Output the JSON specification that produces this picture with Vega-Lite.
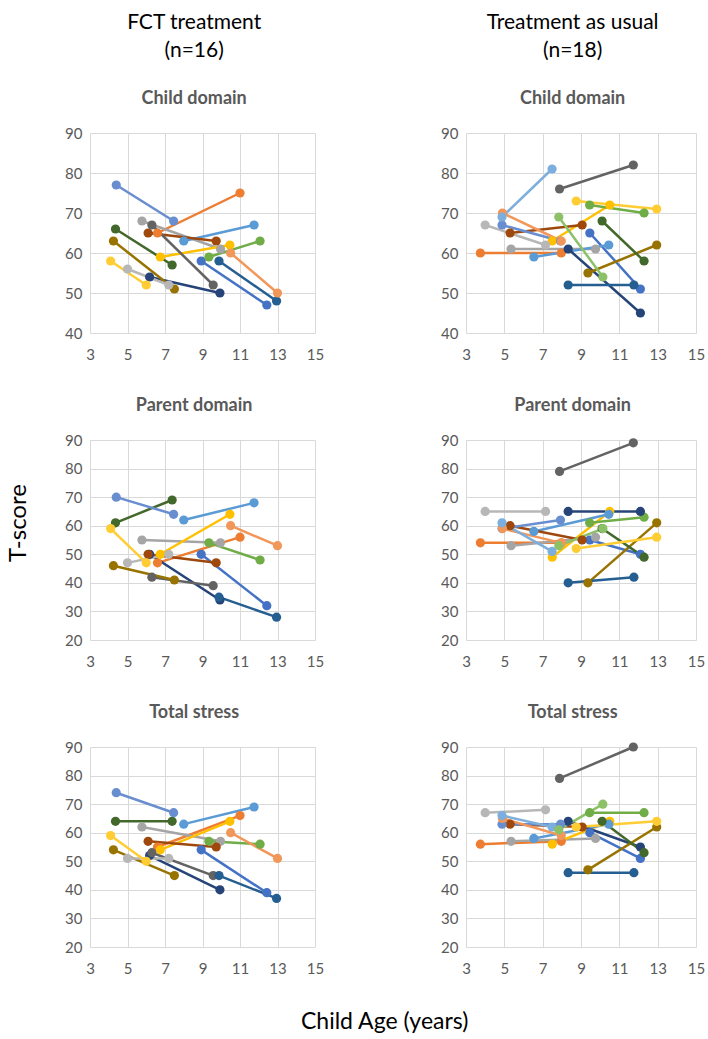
{
"$schema": "https://vega.github.io/schema/vega-lite/v6.json",
"padding": {"left": 6, "top": 12, "right": 0, "bottom": 0},
"background": "white",
"config": {
  "font": "Lato",
  "view": {"stroke": null},
  "axis": {"domain": false, "ticks": false, "grid": true, "gridColor": "#D9D9D9", "gridWidth": 1, "labelFont": "Lato", "labelFontSize": 15, "labelColor": "#595959", "labelFlush": false, "labelOverlap": false},
  "axisX": {"labelPadding": 14},
  "axisY": {"labelPadding": 8},
  "title": {"font": "Lato", "fontSize": 18, "fontWeight": "bold", "color": "#595959", "offset": 18},
  "concat": {"spacing": 35},
  "line": {"strokeWidth": 2.5}
},
"datasets": {
 "pts": [
  {"g":"F","m":"C","id":"S1","age":8.93,"t":58},{"g":"F","m":"C","id":"S1","age":12.43,"t":47},
  {"g":"F","m":"P","id":"S1","age":8.93,"t":50},{"g":"F","m":"P","id":"S1","age":12.43,"t":32},
  {"g":"F","m":"S","id":"S1","age":8.93,"t":54},{"g":"F","m":"S","id":"S1","age":12.43,"t":39},
  {"g":"F","m":"C","id":"S2","age":6.6,"t":65},{"g":"F","m":"C","id":"S2","age":11.0,"t":75},
  {"g":"F","m":"P","id":"S2","age":6.6,"t":47},{"g":"F","m":"P","id":"S2","age":11.0,"t":56},
  {"g":"F","m":"S","id":"S2","age":6.6,"t":55},{"g":"F","m":"S","id":"S2","age":11.0,"t":66},
  {"g":"F","m":"C","id":"S3","age":5.77,"t":68},{"g":"F","m":"C","id":"S3","age":9.96,"t":61},
  {"g":"F","m":"P","id":"S3","age":5.77,"t":55},{"g":"F","m":"P","id":"S3","age":9.96,"t":54},
  {"g":"F","m":"S","id":"S3","age":5.77,"t":62},{"g":"F","m":"S","id":"S3","age":9.96,"t":57},
  {"g":"F","m":"C","id":"S4","age":6.75,"t":59},{"g":"F","m":"C","id":"S4","age":10.46,"t":62},
  {"g":"F","m":"P","id":"S4","age":6.75,"t":50},{"g":"F","m":"P","id":"S4","age":10.46,"t":64},
  {"g":"F","m":"S","id":"S4","age":6.75,"t":54},{"g":"F","m":"S","id":"S4","age":10.46,"t":64},
  {"g":"F","m":"C","id":"S5","age":8.0,"t":63},{"g":"F","m":"C","id":"S5","age":11.75,"t":67},
  {"g":"F","m":"P","id":"S5","age":8.0,"t":62},{"g":"F","m":"P","id":"S5","age":11.75,"t":68},
  {"g":"F","m":"S","id":"S5","age":8.0,"t":63},{"g":"F","m":"S","id":"S5","age":11.75,"t":69},
  {"g":"F","m":"C","id":"S6","age":9.34,"t":59},{"g":"F","m":"C","id":"S6","age":12.07,"t":63},
  {"g":"F","m":"P","id":"S6","age":9.34,"t":54},{"g":"F","m":"P","id":"S6","age":12.07,"t":48},
  {"g":"F","m":"S","id":"S6","age":9.34,"t":57},{"g":"F","m":"S","id":"S6","age":12.07,"t":56},
  {"g":"F","m":"C","id":"S7","age":6.18,"t":54},{"g":"F","m":"C","id":"S7","age":9.93,"t":50},
  {"g":"F","m":"P","id":"S7","age":6.18,"t":50},{"g":"F","m":"P","id":"S7","age":9.93,"t":34},
  {"g":"F","m":"S","id":"S7","age":6.18,"t":52},{"g":"F","m":"S","id":"S7","age":9.93,"t":40},
  {"g":"F","m":"C","id":"S8","age":6.1,"t":65},{"g":"F","m":"C","id":"S8","age":9.73,"t":63},
  {"g":"F","m":"P","id":"S8","age":6.1,"t":50},{"g":"F","m":"P","id":"S8","age":9.73,"t":47},
  {"g":"F","m":"S","id":"S8","age":6.1,"t":57},{"g":"F","m":"S","id":"S8","age":9.73,"t":55},
  {"g":"F","m":"C","id":"S9","age":6.3,"t":67},{"g":"F","m":"C","id":"S9","age":9.57,"t":52},
  {"g":"F","m":"P","id":"S9","age":6.3,"t":42},{"g":"F","m":"P","id":"S9","age":9.57,"t":39},
  {"g":"F","m":"S","id":"S9","age":6.3,"t":53},{"g":"F","m":"S","id":"S9","age":9.57,"t":45},
  {"g":"F","m":"C","id":"S10","age":4.25,"t":63},{"g":"F","m":"C","id":"S10","age":7.5,"t":51},
  {"g":"F","m":"P","id":"S10","age":4.25,"t":46},{"g":"F","m":"P","id":"S10","age":7.5,"t":41},
  {"g":"F","m":"S","id":"S10","age":4.25,"t":54},{"g":"F","m":"S","id":"S10","age":7.5,"t":45},
  {"g":"F","m":"C","id":"S11","age":9.88,"t":58},{"g":"F","m":"C","id":"S11","age":12.95,"t":48},
  {"g":"F","m":"P","id":"S11","age":9.88,"t":35},{"g":"F","m":"P","id":"S11","age":12.95,"t":28},
  {"g":"F","m":"S","id":"S11","age":9.88,"t":45},{"g":"F","m":"S","id":"S11","age":12.95,"t":37},
  {"g":"F","m":"C","id":"S12","age":4.36,"t":66},{"g":"F","m":"C","id":"S12","age":7.38,"t":57},
  {"g":"F","m":"P","id":"S12","age":4.36,"t":61},{"g":"F","m":"P","id":"S12","age":7.38,"t":69},
  {"g":"F","m":"S","id":"S12","age":4.36,"t":64},{"g":"F","m":"S","id":"S12","age":7.38,"t":64},
  {"g":"F","m":"C","id":"S13","age":4.4,"t":77},{"g":"F","m":"C","id":"S13","age":7.46,"t":68},
  {"g":"F","m":"P","id":"S13","age":4.4,"t":70},{"g":"F","m":"P","id":"S13","age":7.46,"t":64},
  {"g":"F","m":"S","id":"S13","age":4.4,"t":74},{"g":"F","m":"S","id":"S13","age":7.46,"t":67},
  {"g":"F","m":"C","id":"S14","age":10.5,"t":60},{"g":"F","m":"C","id":"S14","age":13.0,"t":50},
  {"g":"F","m":"P","id":"S14","age":10.5,"t":60},{"g":"F","m":"P","id":"S14","age":13.0,"t":53},
  {"g":"F","m":"S","id":"S14","age":10.5,"t":60},{"g":"F","m":"S","id":"S14","age":13.0,"t":51},
  {"g":"F","m":"C","id":"S15","age":5.0,"t":56},{"g":"F","m":"C","id":"S15","age":7.2,"t":52},
  {"g":"F","m":"P","id":"S15","age":5.0,"t":47},{"g":"F","m":"P","id":"S15","age":7.2,"t":50},
  {"g":"F","m":"S","id":"S15","age":5.0,"t":51},{"g":"F","m":"S","id":"S15","age":7.2,"t":51},
  {"g":"F","m":"C","id":"S16","age":4.1,"t":58},{"g":"F","m":"C","id":"S16","age":6.0,"t":52},
  {"g":"F","m":"P","id":"S16","age":4.1,"t":59},{"g":"F","m":"P","id":"S16","age":6.0,"t":47},
  {"g":"F","m":"S","id":"S16","age":4.1,"t":59},{"g":"F","m":"S","id":"S16","age":6.0,"t":50},

  {"g":"T","m":"C","id":"S1","age":9.46,"t":65},{"g":"T","m":"C","id":"S1","age":12.1,"t":51},
  {"g":"T","m":"P","id":"S1","age":9.46,"t":55},{"g":"T","m":"P","id":"S1","age":12.1,"t":50},
  {"g":"T","m":"S","id":"S1","age":9.46,"t":60},{"g":"T","m":"S","id":"S1","age":12.1,"t":51},
  {"g":"T","m":"C","id":"S2","age":3.75,"t":60},{"g":"T","m":"C","id":"S2","age":7.97,"t":60},
  {"g":"T","m":"P","id":"S2","age":3.75,"t":54},{"g":"T","m":"P","id":"S2","age":7.97,"t":54},
  {"g":"T","m":"S","id":"S2","age":3.75,"t":56},{"g":"T","m":"S","id":"S2","age":7.97,"t":57},
  {"g":"T","m":"C","id":"S3","age":5.35,"t":61},{"g":"T","m":"C","id":"S3","age":9.76,"t":61},
  {"g":"T","m":"P","id":"S3","age":5.35,"t":53},{"g":"T","m":"P","id":"S3","age":9.76,"t":56},
  {"g":"T","m":"S","id":"S3","age":5.35,"t":57},{"g":"T","m":"S","id":"S3","age":9.76,"t":58},
  {"g":"T","m":"C","id":"S4","age":7.5,"t":63},{"g":"T","m":"C","id":"S4","age":10.5,"t":72},
  {"g":"T","m":"P","id":"S4","age":7.5,"t":49},{"g":"T","m":"P","id":"S4","age":10.5,"t":65},
  {"g":"T","m":"S","id":"S4","age":7.5,"t":56},{"g":"T","m":"S","id":"S4","age":10.5,"t":64},
  {"g":"T","m":"C","id":"S5","age":6.54,"t":59},{"g":"T","m":"C","id":"S5","age":10.45,"t":62},
  {"g":"T","m":"P","id":"S5","age":6.54,"t":58},{"g":"T","m":"P","id":"S5","age":10.45,"t":64},
  {"g":"T","m":"S","id":"S5","age":6.54,"t":58},{"g":"T","m":"S","id":"S5","age":10.45,"t":63},
  {"g":"T","m":"C","id":"S6","age":9.45,"t":72},{"g":"T","m":"C","id":"S6","age":12.29,"t":70},
  {"g":"T","m":"P","id":"S6","age":9.45,"t":61},{"g":"T","m":"P","id":"S6","age":12.29,"t":63},
  {"g":"T","m":"S","id":"S6","age":9.45,"t":67},{"g":"T","m":"S","id":"S6","age":12.29,"t":67},
  {"g":"T","m":"C","id":"S7","age":8.33,"t":61},{"g":"T","m":"C","id":"S7","age":12.1,"t":45},
  {"g":"T","m":"P","id":"S7","age":8.33,"t":65},{"g":"T","m":"P","id":"S7","age":12.1,"t":65},
  {"g":"T","m":"S","id":"S7","age":8.33,"t":64},{"g":"T","m":"S","id":"S7","age":12.1,"t":55},
  {"g":"T","m":"C","id":"S8","age":5.3,"t":65},{"g":"T","m":"C","id":"S8","age":9.06,"t":67},
  {"g":"T","m":"P","id":"S8","age":5.3,"t":60},{"g":"T","m":"P","id":"S8","age":9.06,"t":55},
  {"g":"T","m":"S","id":"S8","age":5.3,"t":63},{"g":"T","m":"S","id":"S8","age":9.06,"t":62},
  {"g":"T","m":"C","id":"S9","age":7.88,"t":76},{"g":"T","m":"C","id":"S9","age":11.73,"t":82},
  {"g":"T","m":"P","id":"S9","age":7.88,"t":79},{"g":"T","m":"P","id":"S9","age":11.73,"t":89},
  {"g":"T","m":"S","id":"S9","age":7.88,"t":79},{"g":"T","m":"S","id":"S9","age":11.73,"t":90},
  {"g":"T","m":"C","id":"S10","age":9.36,"t":55},{"g":"T","m":"C","id":"S10","age":12.95,"t":62},
  {"g":"T","m":"P","id":"S10","age":9.36,"t":40},{"g":"T","m":"P","id":"S10","age":12.95,"t":61},
  {"g":"T","m":"S","id":"S10","age":9.36,"t":47},{"g":"T","m":"S","id":"S10","age":12.95,"t":62},
  {"g":"T","m":"C","id":"S11","age":8.33,"t":52},{"g":"T","m":"C","id":"S11","age":11.76,"t":52},
  {"g":"T","m":"P","id":"S11","age":8.33,"t":40},{"g":"T","m":"P","id":"S11","age":11.76,"t":42},
  {"g":"T","m":"S","id":"S11","age":8.33,"t":46},{"g":"T","m":"S","id":"S11","age":11.76,"t":46},
  {"g":"T","m":"C","id":"S12","age":10.1,"t":68},{"g":"T","m":"C","id":"S12","age":12.29,"t":58},
  {"g":"T","m":"P","id":"S12","age":10.1,"t":59},{"g":"T","m":"P","id":"S12","age":12.29,"t":49},
  {"g":"T","m":"S","id":"S12","age":10.1,"t":64},{"g":"T","m":"S","id":"S12","age":12.29,"t":53},
  {"g":"T","m":"C","id":"S13","age":4.88,"t":67},{"g":"T","m":"C","id":"S13","age":7.93,"t":63},
  {"g":"T","m":"P","id":"S13","age":4.88,"t":59},{"g":"T","m":"P","id":"S13","age":7.93,"t":62},
  {"g":"T","m":"S","id":"S13","age":4.88,"t":63},{"g":"T","m":"S","id":"S13","age":7.93,"t":63},
  {"g":"T","m":"C","id":"S14","age":4.9,"t":70},{"g":"T","m":"C","id":"S14","age":7.97,"t":63},
  {"g":"T","m":"P","id":"S14","age":4.9,"t":59},{"g":"T","m":"P","id":"S14","age":7.97,"t":54},
  {"g":"T","m":"S","id":"S14","age":4.9,"t":65},{"g":"T","m":"S","id":"S14","age":7.97,"t":59},
  {"g":"T","m":"C","id":"S15","age":4.0,"t":67},{"g":"T","m":"C","id":"S15","age":7.15,"t":62},
  {"g":"T","m":"P","id":"S15","age":4.0,"t":65},{"g":"T","m":"P","id":"S15","age":7.15,"t":65},
  {"g":"T","m":"S","id":"S15","age":4.0,"t":67},{"g":"T","m":"S","id":"S15","age":7.15,"t":68},
  {"g":"T","m":"C","id":"S16","age":8.75,"t":73},{"g":"T","m":"C","id":"S16","age":12.95,"t":71},
  {"g":"T","m":"P","id":"S16","age":8.75,"t":52},{"g":"T","m":"P","id":"S16","age":12.95,"t":56},
  {"g":"T","m":"S","id":"S16","age":8.75,"t":62},{"g":"T","m":"S","id":"S16","age":12.95,"t":64},
  {"g":"T","m":"C","id":"S17","age":4.88,"t":69},{"g":"T","m":"C","id":"S17","age":7.49,"t":81},
  {"g":"T","m":"P","id":"S17","age":4.88,"t":61},{"g":"T","m":"P","id":"S17","age":7.49,"t":51},
  {"g":"T","m":"S","id":"S17","age":4.88,"t":66},{"g":"T","m":"S","id":"S17","age":7.49,"t":62},
  {"g":"T","m":"C","id":"S18","age":7.84,"t":69},{"g":"T","m":"C","id":"S18","age":10.14,"t":54},
  {"g":"T","m":"P","id":"S18","age":7.84,"t":53},{"g":"T","m":"P","id":"S18","age":10.14,"t":59},
  {"g":"T","m":"S","id":"S18","age":7.84,"t":61},{"g":"T","m":"S","id":"S18","age":10.14,"t":70}
 ]
},
"title": {"text": "T-score", "orient": "left", "anchor": "middle", "fontSize": 24, "fontWeight": "normal", "color": "#000000", "offset": 34},
"vconcat": [
 {
  "title": {"text": "Child Age (years)", "orient": "bottom", "anchor": "middle", "fontSize": 23, "fontWeight": "normal", "color": "#000000", "offset": 35},
  "spacing": 116,
  "hconcat": [
   {
    "title": {"text": ["FCT treatment", "(n=16)"], "anchor": "middle", "fontSize": 21, "fontWeight": "normal", "color": "#000000", "lineHeight": 28, "offset": 29},
    "spacing": 35,
    "vconcat": [
     {"title": {"text": "Child domain", "frame": "bounds"}, "width": 225, "height": 200, "data": {"name": "pts"},
      "transform": [{"filter": "datum.g == 'F' && datum.m == 'C'"}],
      "mark": {"type": "line", "strokeWidth": 2.5, "point": {"filled": true, "size": 85, "opacity": 1}},
      "encoding": {
       "x": {"field": "age", "type": "quantitative", "scale": {"domain": [3, 15], "nice": false, "zero": false}, "axis": {"values": [3,5,7,9,11,13,15], "title": null}},
       "y": {"field": "t", "type": "quantitative", "scale": {"domain": [40, 90], "nice": false, "zero": false}, "axis": {"values": [40,50,60,70,80,90], "title": null}},
       "color": {"field": "id", "type": "nominal", "legend": null, "scale": {"domain": ["S1","S2","S3","S4","S5","S6","S7","S8","S9","S10","S11","S12","S13","S14","S15","S16","S17","S18"], "range": ["#4472C4","#ED7D31","#A5A5A5","#FFC000","#5B9BD5","#70AD47","#264478","#9E480E","#636363","#997300","#255E91","#43682B","#698ED0","#F1975A","#B7B7B7","#FFCD33","#7CAFDD","#8CC168"]}}
      }},
     {"title": {"text": "Parent domain", "frame": "bounds"}, "width": 225, "height": 200, "data": {"name": "pts"},
      "transform": [{"filter": "datum.g == 'F' && datum.m == 'P'"}],
      "mark": {"type": "line", "strokeWidth": 2.5, "point": {"filled": true, "size": 85, "opacity": 1}},
      "encoding": {
       "x": {"field": "age", "type": "quantitative", "scale": {"domain": [3, 15], "nice": false, "zero": false}, "axis": {"values": [3,5,7,9,11,13,15], "title": null}},
       "y": {"field": "t", "type": "quantitative", "scale": {"domain": [20, 90], "nice": false, "zero": false}, "axis": {"values": [20,30,40,50,60,70,80,90], "title": null}},
       "color": {"field": "id", "type": "nominal", "legend": null, "scale": {"domain": ["S1","S2","S3","S4","S5","S6","S7","S8","S9","S10","S11","S12","S13","S14","S15","S16","S17","S18"], "range": ["#4472C4","#ED7D31","#A5A5A5","#FFC000","#5B9BD5","#70AD47","#264478","#9E480E","#636363","#997300","#255E91","#43682B","#698ED0","#F1975A","#B7B7B7","#FFCD33","#7CAFDD","#8CC168"]}}
      }},
     {"title": {"text": "Total stress", "frame": "bounds"}, "width": 225, "height": 200, "data": {"name": "pts"},
      "transform": [{"filter": "datum.g == 'F' && datum.m == 'S'"}],
      "mark": {"type": "line", "strokeWidth": 2.5, "point": {"filled": true, "size": 85, "opacity": 1}},
      "encoding": {
       "x": {"field": "age", "type": "quantitative", "scale": {"domain": [3, 15], "nice": false, "zero": false}, "axis": {"values": [3,5,7,9,11,13,15], "title": null}},
       "y": {"field": "t", "type": "quantitative", "scale": {"domain": [20, 90], "nice": false, "zero": false}, "axis": {"values": [20,30,40,50,60,70,80,90], "title": null}},
       "color": {"field": "id", "type": "nominal", "legend": null, "scale": {"domain": ["S1","S2","S3","S4","S5","S6","S7","S8","S9","S10","S11","S12","S13","S14","S15","S16","S17","S18"], "range": ["#4472C4","#ED7D31","#A5A5A5","#FFC000","#5B9BD5","#70AD47","#264478","#9E480E","#636363","#997300","#255E91","#43682B","#698ED0","#F1975A","#B7B7B7","#FFCD33","#7CAFDD","#8CC168"]}}
      }}
    ]
   },
   {
    "title": {"text": ["Treatment as usual", "(n=18)"], "anchor": "middle", "fontSize": 21, "fontWeight": "normal", "color": "#000000", "lineHeight": 28, "offset": 29},
    "spacing": 35,
    "vconcat": [
     {"title": {"text": "Child domain", "frame": "bounds"}, "width": 230, "height": 200, "data": {"name": "pts"},
      "transform": [{"filter": "datum.g == 'T' && datum.m == 'C'"}],
      "mark": {"type": "line", "strokeWidth": 2.5, "point": {"filled": true, "size": 85, "opacity": 1}},
      "encoding": {
       "x": {"field": "age", "type": "quantitative", "scale": {"domain": [3, 15], "nice": false, "zero": false}, "axis": {"values": [3,5,7,9,11,13,15], "title": null}},
       "y": {"field": "t", "type": "quantitative", "scale": {"domain": [40, 90], "nice": false, "zero": false}, "axis": {"values": [40,50,60,70,80,90], "title": null}},
       "color": {"field": "id", "type": "nominal", "legend": null, "scale": {"domain": ["S1","S2","S3","S4","S5","S6","S7","S8","S9","S10","S11","S12","S13","S14","S15","S16","S17","S18"], "range": ["#4472C4","#ED7D31","#A5A5A5","#FFC000","#5B9BD5","#70AD47","#264478","#9E480E","#636363","#997300","#255E91","#43682B","#698ED0","#F1975A","#B7B7B7","#FFCD33","#7CAFDD","#8CC168"]}}
      }},
     {"title": {"text": "Parent domain", "frame": "bounds"}, "width": 230, "height": 200, "data": {"name": "pts"},
      "transform": [{"filter": "datum.g == 'T' && datum.m == 'P'"}],
      "mark": {"type": "line", "strokeWidth": 2.5, "point": {"filled": true, "size": 85, "opacity": 1}},
      "encoding": {
       "x": {"field": "age", "type": "quantitative", "scale": {"domain": [3, 15], "nice": false, "zero": false}, "axis": {"values": [3,5,7,9,11,13,15], "title": null}},
       "y": {"field": "t", "type": "quantitative", "scale": {"domain": [20, 90], "nice": false, "zero": false}, "axis": {"values": [20,30,40,50,60,70,80,90], "title": null}},
       "color": {"field": "id", "type": "nominal", "legend": null, "scale": {"domain": ["S1","S2","S3","S4","S5","S6","S7","S8","S9","S10","S11","S12","S13","S14","S15","S16","S17","S18"], "range": ["#4472C4","#ED7D31","#A5A5A5","#FFC000","#5B9BD5","#70AD47","#264478","#9E480E","#636363","#997300","#255E91","#43682B","#698ED0","#F1975A","#B7B7B7","#FFCD33","#7CAFDD","#8CC168"]}}
      }},
     {"title": {"text": "Total stress", "frame": "bounds"}, "width": 230, "height": 200, "data": {"name": "pts"},
      "transform": [{"filter": "datum.g == 'T' && datum.m == 'S'"}],
      "mark": {"type": "line", "strokeWidth": 2.5, "point": {"filled": true, "size": 85, "opacity": 1}},
      "encoding": {
       "x": {"field": "age", "type": "quantitative", "scale": {"domain": [3, 15], "nice": false, "zero": false}, "axis": {"values": [3,5,7,9,11,13,15], "title": null}},
       "y": {"field": "t", "type": "quantitative", "scale": {"domain": [20, 90], "nice": false, "zero": false}, "axis": {"values": [20,30,40,50,60,70,80,90], "title": null}},
       "color": {"field": "id", "type": "nominal", "legend": null, "scale": {"domain": ["S1","S2","S3","S4","S5","S6","S7","S8","S9","S10","S11","S12","S13","S14","S15","S16","S17","S18"], "range": ["#4472C4","#ED7D31","#A5A5A5","#FFC000","#5B9BD5","#70AD47","#264478","#9E480E","#636363","#997300","#255E91","#43682B","#698ED0","#F1975A","#B7B7B7","#FFCD33","#7CAFDD","#8CC168"]}}
      }}
    ]
   }
  ]
 }
]
}
